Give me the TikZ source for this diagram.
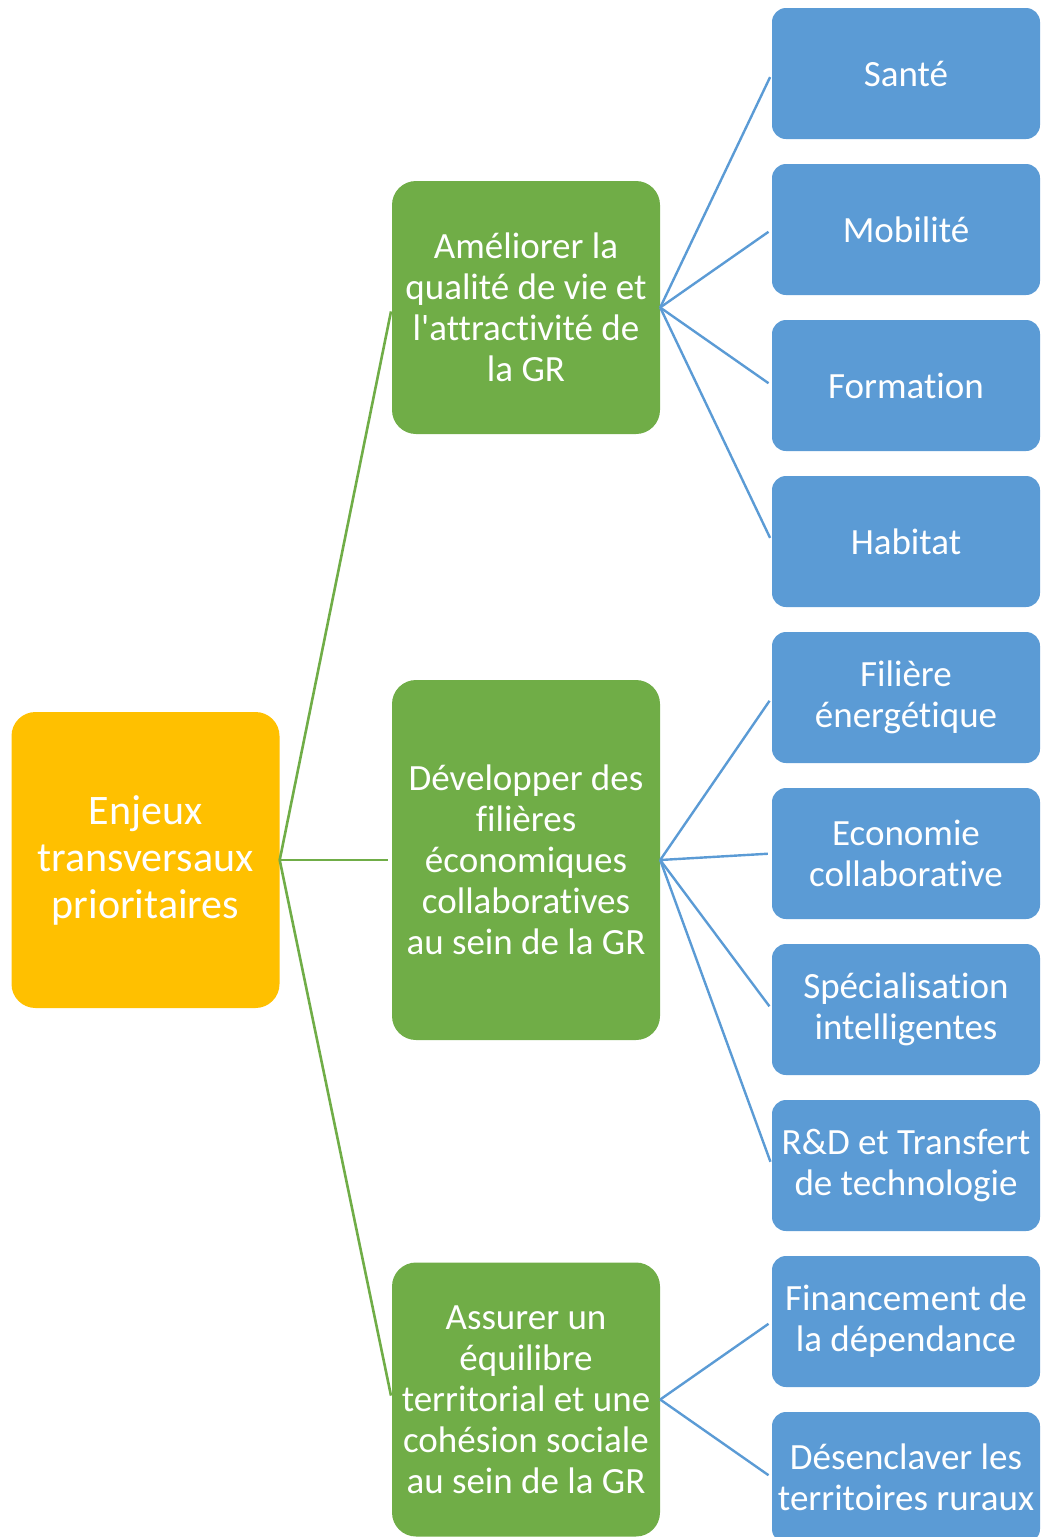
\documentclass[tikz,border=0pt]{standalone}
\usepackage{fontspec}
\setmainfont{Carlito}[Ligatures={NoCommon}]
\definecolor{orangeC}{HTML}{FFC000}
\definecolor{greenC}{HTML}{70AD47}
\definecolor{blueC}{HTML}{5B9BD5}
\begin{document}
\begin{tikzpicture}[x=1pt,y=-1pt,
  rootbox/.style={fill=orangeC, rounded corners=24pt, minimum width=268pt, minimum height=296pt, inner sep=0pt, text=white, align=center, font=\fontsize{42}{47}\selectfont},
  greenbox/.style={fill=greenC, rounded corners=24pt, minimum width=268pt, inner sep=0pt, text=white, align=center, font=\fontsize{37}{41}\selectfont},
  bluebox/.style={fill=blueC, rounded corners=14pt, minimum width=268pt, minimum height=131pt, inner sep=0pt, text=white, align=center, font=\fontsize{37}{41}\selectfont},
  gline/.style={draw=greenC, line width=2.6pt, shorten >=4pt},
  bline/.style={draw=blueC, line width=2.4pt, shorten >=4pt}]
\useasboundingbox (0,0) rectangle (1041,1537);
\node[rootbox] (root) at (145.5,860) {Enjeux\\transversaux\\prioritaires};
\node[greenbox, minimum height=253pt] (g1) at (526,307.5) {Améliorer la\\qualité de vie et\\l\textquotesingle attractivité de\\la GR};
\node[greenbox, minimum height=360pt] (g2) at (526,860) {Développer des\\filières\\économiques\\collaboratives\\au sein de la GR};
\node[greenbox, minimum height=274pt] (g3) at (526,1399.5) {Assurer un\\équilibre\\territorial et une\\cohésion sociale\\au sein de la GR};
\node[bluebox] (b1) at (906,73.5) {Santé};
\node[bluebox] (b2) at (906,229.5) {Mobilité};
\node[bluebox] (b3) at (906,385.5) {Formation};
\node[bluebox] (b4) at (906,541.5) {Habitat};
\node[bluebox] (b5) at (906,697.5) {Filière\\énergétique};
\node[bluebox] (b6) at (906,853.5) {Economie\\collaborative};
\node[bluebox] (b7) at (906,1009.5) {Spécialisation\\intelligentes};
\node[bluebox] (b8) at (906,1165.5) {R\&D et Transfert\\de technologie};
\node[bluebox] (b9) at (906,1321.5) {Financement de\\la dépendance};
\node[bluebox] (b10) at (906,1477.5) {Désenclaver les\\territoires ruraux};
\foreach \g in {g1,g2,g3} \draw[gline] (root.east) -- (\g.west);
\foreach \b in {b1,b2,b3,b4} \draw[bline] (g1.east) -- (\b.west);
\foreach \b in {b5,b6,b7,b8} \draw[bline] (g2.east) -- (\b.west);
\foreach \b in {b9,b10} \draw[bline] (g3.east) -- (\b.west);
\end{tikzpicture}
\end{document}
